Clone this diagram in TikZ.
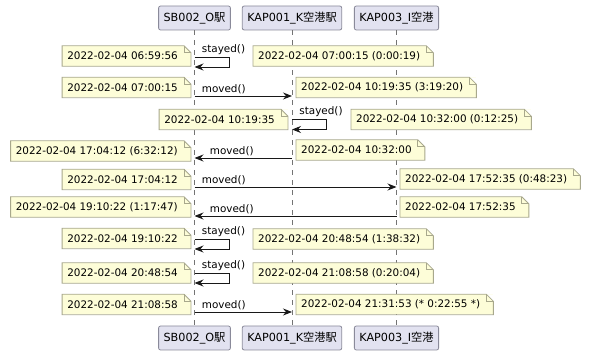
\documentclass[tikz,border=0pt]{standalone}
\usepackage{fontspec}
\setmainfont{DejaVu Sans}
\newfontfamily\jp{Noto Sans CJK JP}
\usepackage{tikz}
\usetikzlibrary{arrows.meta}

\definecolor{actorfill}{HTML}{E2E2F0}
\definecolor{actorline}{HTML}{8A8A9A}
\definecolor{notefill}{HTML}{FDFDD8}
\definecolor{noteline}{HTML}{A8A88C}
\definecolor{msgline}{HTML}{181818}

% time stamp note with folded corner: name, anchor, position, text
\newcommand{\timenote}[4]{%
  \node[stamp, anchor=#2] (#1) at (#3) {#4\hspace*{8pt}};
  \fill[white] (#1.north east) -- ([xshift=-7pt]#1.north east) -- ([yshift=-7pt]#1.north east) -- cycle;
  \draw[noteline, line width=0.8pt] (#1.south west) -- (#1.north west) -- ([xshift=-7pt]#1.north east)
    -- ([yshift=-7pt]#1.north east) -- (#1.south east) -- cycle;
  \draw[noteline, line width=0.8pt] ([xshift=-7pt]#1.north east) |- ([yshift=-7pt]#1.north east);
}

\begin{document}
\begin{tikzpicture}[x=1pt, y=-1pt,
    actor/.style = {draw=actorline, fill=actorfill, rounded corners=2pt, line width=0.8pt,
      minimum height=24pt, inner xsep=5pt, font=\fontsize{11.2}{13}\selectfont},
    stamp/.style = {fill=notefill, inner xsep=5pt, inner ysep=0pt, minimum height=20pt,
      font=\fontsize{10.4}{12}\selectfont},
    lifeline/.style = {draw=msgline!60, dash pattern=on 5pt off 5pt, line width=0.6pt},
    msg/.style = {draw=msgline, line width=0.9pt, -{Stealth[length=9pt, width=7pt, inset=3pt]}},
    lbl/.style = {inner sep=0pt, anchor=south west, font=\fontsize{10.4}{12}\selectfont}]
\useasboundingbox (0,0) rectangle (590,352);

% participants
\node[actor] (sbTop) at (194.5,18) {SB002\_O{\jp 駅}};
\node[actor] (kapkTop) at (292,18) {KAP001\_K{\jp 空港駅}};
\node[actor] (kapiTop) at (396.5,18) {KAP003\_I{\jp 空港}};
\node[actor] (sbBot) at (194.5,338) {SB002\_O{\jp 駅}};
\node[actor] (kapkBot) at (292,338) {KAP001\_K{\jp 空港駅}};
\node[actor] (kapiBot) at (396.5,338) {KAP003\_I{\jp 空港}};

\draw[lifeline] (sbTop) -- (sbBot);
\draw[lifeline] (kapkTop) -- (kapkBot);
\draw[lifeline] (kapiTop) -- (kapiBot);

% rows of messages
\coordinate (r1) at (0,57);
\coordinate (r2) at (0,96);
\coordinate (r3) at (0,119.5);
\coordinate (r4) at (0,158);
\coordinate (r5) at (0,187);
\coordinate (r6) at (0,216);
\coordinate (r7) at (0,239);
\coordinate (r8) at (0,273);
\coordinate (r9) at (0,312);

\draw[msg] (sbTop |- r1) node[lbl, xshift=7pt, yshift=2pt] {stayed()} -- ++(35,0) -- ++(0,10) -- ++(-35,0);
\draw[msg] (sbTop |- r2) node[lbl, xshift=7pt, yshift=2pt] {moved()} -- (kapkTop |- r2);
\draw[msg] (kapkTop |- r3) node[lbl, xshift=7pt, yshift=2pt] {stayed()} -- ++(34,0) -- ++(0,10) -- ++(-34,0);
\draw[msg] (kapkTop |- r4) -- (sbTop |- r4) node[lbl, xshift=15pt, yshift=2pt] {moved()};
\draw[msg] (sbTop |- r5) node[lbl, xshift=7pt, yshift=2pt] {moved()} -- (kapiTop |- r5);
\draw[msg] (kapiTop |- r6) -- (sbTop |- r6) node[lbl, xshift=15pt, yshift=2pt] {moved()};
\draw[msg] (sbTop |- r7) node[lbl, xshift=7pt, yshift=2pt] {stayed()} -- ++(35,0) -- ++(0,10) -- ++(-35,0);
\draw[msg] (sbTop |- r8) node[lbl, xshift=7pt, yshift=2pt] {stayed()} -- ++(35,0) -- ++(0,10) -- ++(-35,0);
\draw[msg] (sbTop |- r9) node[lbl, xshift=7pt, yshift=2pt] {moved()} -- (kapkTop |- r9);

% notes
\timenote{n1l}{east}{191,56}{2022-02-04 06:59:56}
\timenote{n1r}{west}{253,56}{2022-02-04 07:00:15 (0:00:19)}
\timenote{n2l}{east}{191,87.5}{2022-02-04 07:00:15}
\timenote{n2r}{west}{296,87.5}{2022-02-04 10:19:35 (3:19:20)}
\timenote{n3l}{east}{288,119.5}{2022-02-04 10:19:35}
\timenote{n3r}{west}{351,119.5}{2022-02-04 10:32:00 (0:12:25)}
\timenote{n4l}{east}{191,151}{2022-02-04 17:04:12 (6:32:12)}
\timenote{n4r}{west}{296,150}{2022-02-04 10:32:00}
\timenote{n5l}{east}{191,179.5}{2022-02-04 17:04:12}
\timenote{n5r}{west}{400,179}{2022-02-04 17:52:35 (0:48:23)}
\timenote{n6l}{east}{191,207}{2022-02-04 19:10:22 (1:17:47)}
\timenote{n6r}{west}{400,207}{2022-02-04 17:52:35}
\timenote{n7l}{east}{191,238.5}{2022-02-04 19:10:22}
\timenote{n7r}{west}{253,239}{2022-02-04 20:48:54 (1:38:32)}
\timenote{n8l}{east}{191,273}{2022-02-04 20:48:54}
\timenote{n8r}{west}{253,273}{2022-02-04 21:08:58 (0:20:04)}
\timenote{n9l}{east}{191,304.5}{2022-02-04 21:08:58}
\timenote{n9r}{west}{296,304.5}{2022-02-04 21:31:53 (* 0:22:55 *)}
\end{tikzpicture}
\end{document}
